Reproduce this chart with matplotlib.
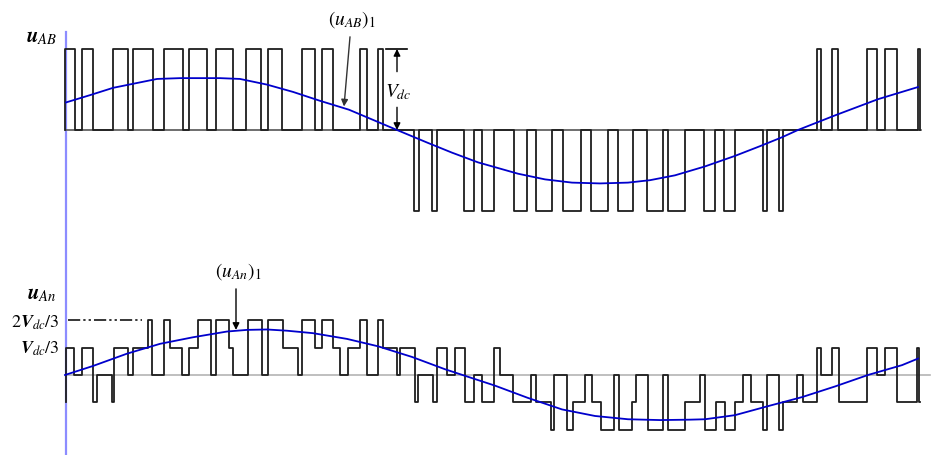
import matplotlib
matplotlib.use("Agg")
import matplotlib.pyplot as plt

plt.rcParams['mathtext.fontset'] = 'stix'
plt.rcParams['font.family'] = ['STIXGeneral', 'DejaVu Serif']

# time axis: horizontal position (origin = vertical axis at 66)
T0 = 66

# u_AB : switching instants and level after each instant (in Vdc)
uab_t = [65, 65, 75, 81.7, 93.3, 113.3, 128.3, 133.3, 153.3, 164.3, 182.7, 189.3, 206.7,
         216, 232.7, 245.7, 260.7, 268.3, 281.7, 301.7, 315, 321.7, 332.7, 360, 366.7,
         378.3, 382.7, 414, 419, 431.7, 436.7, 464, 474.3, 481.7, 494.3, 514.3, 527,
         535.7, 552.3, 563.3, 581, 590.7, 608.3, 618.3, 633.3, 646.7, 663.3, 668.3, 685,
         704.3, 715, 724.3, 735, 762.7, 766.7, 779, 783.3, 816.7, 820.7, 832.3, 838.3,
         866.7, 876.7, 885, 897.3, 917.7, 919.5, 920]
uab_v = [0, 1, 0, 1, 0, 1, 0, 1, 0, 1, 0, 1, 0,
         1, 0, 1, 0, 1, 0, 1, 0, 1, 0, 1, 0,
         1, 0, -1, 0, -1, 0, -1, 0, -1, 0, -1, 0,
         -1, 0, -1, 0, -1, 0, -1, 0, -1, 0, -1, 0,
         -1, 0, -1, 0, -1, 0, -1, 0, 1, 0, 1, 0,
         1, 0, 1, 0, 1, 0, 0]

# u_An : switching instants and level after each instant (in Vdc/3)
uan_t = [66, 66, 74, 81.7, 93.3, 97.3, 111.7, 114, 128.3, 133.3, 148.3, 151.7, 164, 170,
         181.7, 189.3, 198.3, 211, 216, 229.3, 233.3, 247.5, 261.7, 268.3, 282.5, 298.3,
         301.7, 315, 321.7, 332.7, 340, 348.3, 360, 366.7, 378.3, 382.7, 396.7, 400, 415,
         418.3, 432.7, 436.7, 446.7, 455, 465, 474.3, 481.7, 494.3, 500, 513.3, 530.5,
         536.3, 550.5, 554, 567, 572.5, 584.5, 592, 601, 613.5, 618.5, 632, 636, 648,
         663.3, 668.3, 685, 700, 704.5, 715.5, 724.5, 735, 743, 751, 762.7, 767, 779,
         783.3, 796.5, 803, 816.7, 820.7, 832, 839, 866.7, 876.7, 885, 897, 917, 918.5, 920]
uan_v = [-1, 1, 0, 1, -1, 0, -1, 1, 0, 1, 2, 0, 2, 1,
         0, 1, 2, 0, 2, 1, 0, 2, 0, 2, 1, 0,
         2, 1, 2, 1, 0, 1, 2, 0, 2, 1, 0, 1, -1,
         0, -1, 1, 0, 1, -1, 0, -1, 1, 0, -1, 0,
         -1, -2, 0, -2, -1, 0, -1, -2, 0, -2, -1, 0, -2,
         0, -2, -1, 0, -2, -1, -2, -1, 0, -1, -2, 0, -2,
         -1, 0, -1, 1, 0, 1, -1, 1, 0, 1, -1, 1, -1, -1]

# fundamental components (in Vdc)
uab1_t = [66, 90, 113, 133, 157, 180, 200, 220, 240, 267, 293, 320, 349, 372, 395, 428,
          452, 478, 518, 545, 572, 600, 628, 650, 675, 705, 735, 760, 782, 798, 835, 878, 918]
uab1_v = [0.34, 0.43, 0.52, 0.57, 0.63, 0.64, 0.64, 0.64, 0.63, 0.56, 0.47, 0.36, 0.25,
          0.13, 0.01, -0.16, -0.28, -0.40, -0.54, -0.61, -0.65, -0.66, -0.65, -0.62, -0.56,
          -0.45, -0.32, -0.20, -0.09, 0.0, 0.18, 0.38, 0.53]

uan1_t = [65, 93, 127, 160, 193, 227, 247, 267, 287, 313, 347, 378, 412, 445, 465, 495,
          528, 562, 595, 628, 660, 690, 705, 735, 768, 802, 835, 868, 902, 918]
uan1_v = [0.0, 0.11, 0.26, 0.38, 0.46, 0.53, 0.55, 0.555, 0.54, 0.51, 0.44, 0.35, 0.22,
          0.07, -0.01, -0.13, -0.28, -0.42, -0.50, -0.54, -0.55, -0.545, -0.54, -0.49,
          -0.38, -0.27, -0.14, 0.0, 0.12, 0.20]

WAVE = '#1e1e1e'
BLUE = '#0000cc'

fig = plt.figure(figsize=(9.31, 4.56), dpi=100)

# ---- top: line-to-line voltage
ax1 = fig.add_axes([0, 0.5, 1, 0.5])
ax1.set_xlim(0, 931)
ax1.set_ylim(-1.198, 1.617)
ax1.axis('off')
ax1.axvline(T0, ymin=0, ymax=0.855, color='#8c8cff', lw=1.6)
ax1.plot([T0, 921], [0, 0], color='#555555', lw=1.2)
ax1.step(uab_t, uab_v, where='post', color=WAVE, lw=1.3)
ax1.plot(uab1_t, uab1_v, color=BLUE, lw=1.3)

ax1.text(42, 1.15, r'$\mathbfit{u}_{AB}$', fontsize=15, ha='center', va='center')
ax1.text(352, 1.37, r'$(u_{AB})_1$', fontsize=14, ha='center', va='center')
ax1.annotate('', xy=(344, 0.29), xytext=(350, 1.15),
             arrowprops=dict(arrowstyle='-|>', color='#333333', lw=1.0,
                             mutation_scale=10, shrinkA=0, shrinkB=0))
# Vdc dimension
ax1.plot([386, 407], [1, 1], color='black', lw=1.2)
ax1.annotate('', xy=(397, 1), xytext=(397, 0.72),
             arrowprops=dict(arrowstyle='-|>', color='black', lw=1.0,
                             mutation_scale=10, shrinkA=0, shrinkB=0))
ax1.annotate('', xy=(397, 0), xytext=(397, 0.28),
             arrowprops=dict(arrowstyle='-|>', color='black', lw=1.0,
                             mutation_scale=10, shrinkA=0, shrinkB=0))
ax1.text(398, 0.48, r'$V_{dc}$', fontsize=14, ha='center', va='center')

# ---- bottom: line-to-neutral voltage
ax2 = fig.add_axes([0, 0, 1, 0.5])
ax2.set_xlim(0, 931)
ax2.set_ylim(-0.976, 1.805)
ax2.axis('off')
ax2.axvline(T0, color='#8c8cff', lw=1.6)
ax2.plot([T0, 930], [0, 0], color='#b4b4b4', lw=1.2)
ax2.step(uan_t, [v / 3 for v in uan_v], where='post', color=WAVE, lw=1.3)
ax2.plot(uan1_t, uan1_v, color=BLUE, lw=1.3)

ax2.plot([68, 142], [2 / 3, 2 / 3], color='black', lw=1.1,
         dashes=[8, 2, 1.5, 2, 1.5, 2])
ax2.text(42, 1.0, r'$\mathbfit{u}_{An}$', fontsize=15, ha='center', va='center')
ax2.text(60, 0.65, r'$2\mathbfit{V}_{dc}/3$', fontsize=13, ha='right', va='center')
ax2.text(60, 0.33, r'$\mathbfit{V}_{dc}/3$', fontsize=13, ha='right', va='center')
ax2.text(238, 1.27, r'$(u_{An})_1$', fontsize=14, ha='center', va='center')
ax2.annotate('', xy=(236, 0.55), xytext=(236, 1.05),
             arrowprops=dict(arrowstyle='-|>', color='black', lw=1.0,
                             mutation_scale=10, shrinkA=0, shrinkB=0))

fig.savefig('out.png', dpi=100)
